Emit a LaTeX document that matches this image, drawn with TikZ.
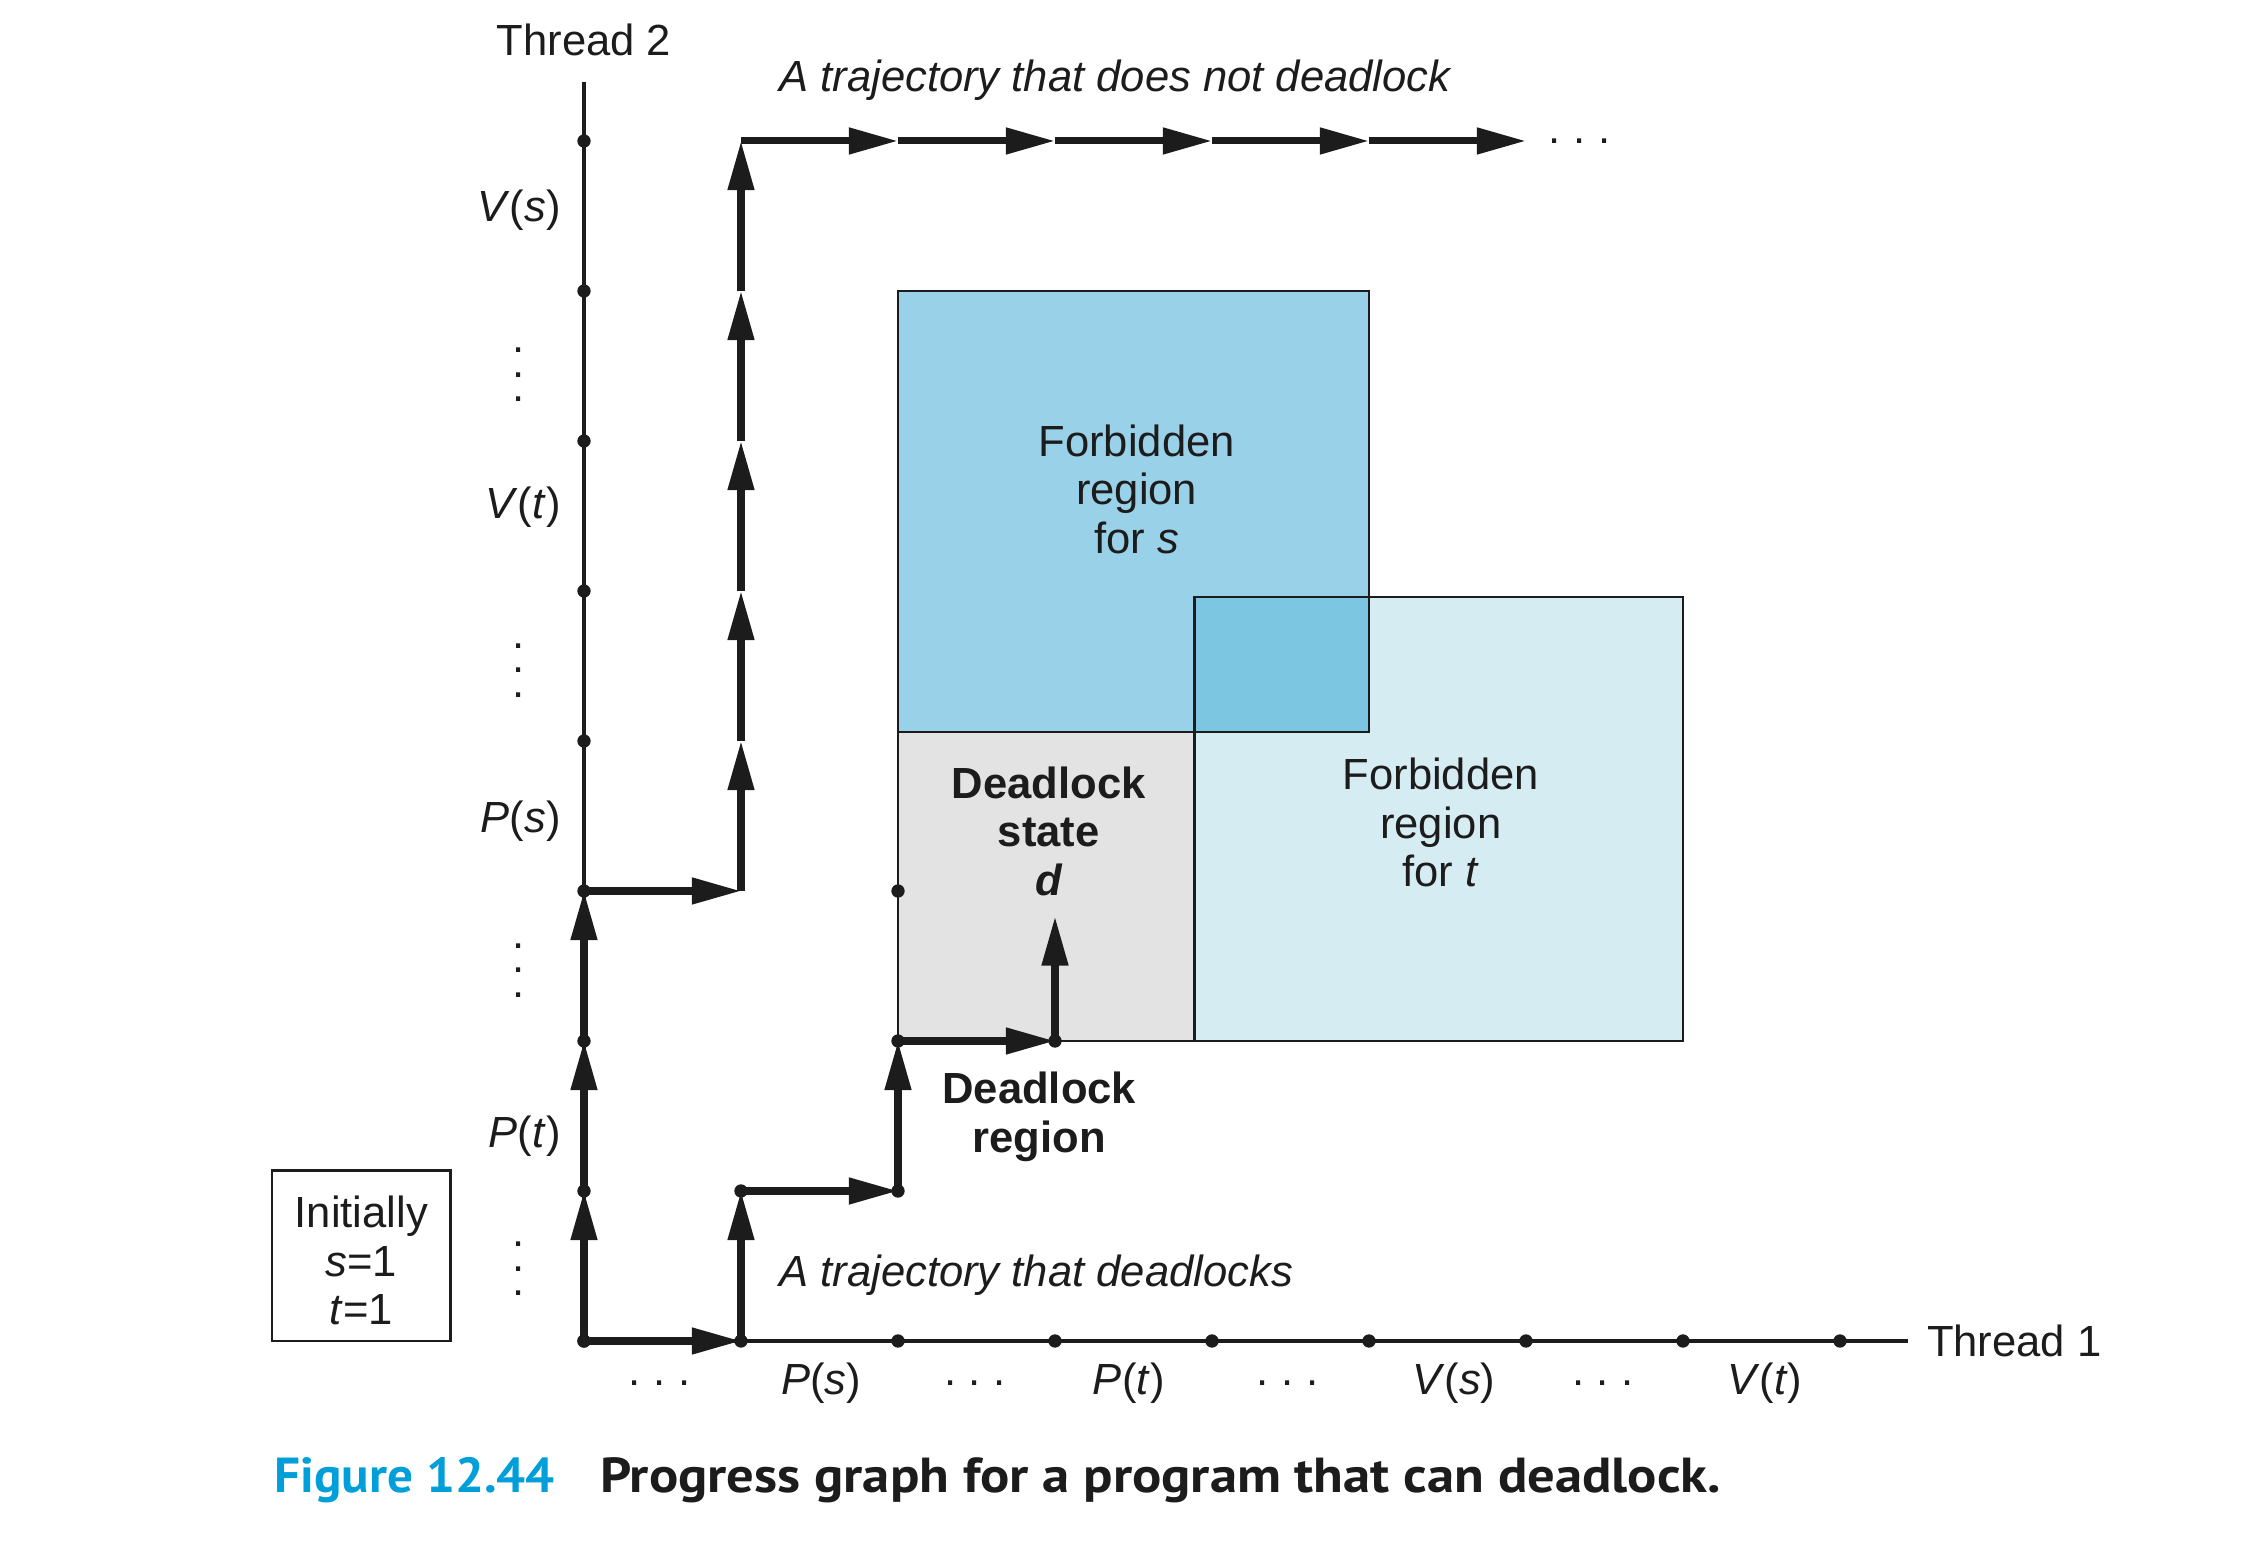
\documentclass[tikz,border=0pt]{standalone}
\usepackage{fontspec}
\setmainfont{Liberation Sans}
\newfontfamily\figfont[FakeStretch=1.04]{PT Sans}
\newfontfamily\capfont[FakeStretch=1.11]{PT Sans}
\usetikzlibrary{arrows.meta,positioning}
\definecolor{ink}{HTML}{1C1C1C}
\definecolor{forbs}{HTML}{98D1E8}
\definecolor{forbt}{HTML}{D6ECF3}
\definecolor{forbst}{HTML}{7CC6E2}
\definecolor{deadfill}{HTML}{E3E3E3}
\definecolor{figblue}{HTML}{009FDA}
\tikzset{
  lbl/.style={text=ink,inner sep=0pt,font=\fontsize{12.4}{13.8}\selectfont},
  lblb/.style={lbl,font=\fontsize{12.4}{13.8}\selectfont\bfseries},
  lbli/.style={lbl,font=\fontsize{12.4}{13.8}\selectfont\itshape},
  vdots/.style={lbl,align=center,font=\fontsize{12.4}{7}\selectfont},
  traj/.style={->,line width=2pt,draw=ink},
  axis/.style={line width=0.95pt,draw=ink},
  regbox/.style={line width=0.8pt,draw=ink},
  figno/.style={inner sep=0pt,text=figblue,font=\figfont\bfseries\fontsize{14}{16}\selectfont},
  capt/.style={inner sep=0pt,text=ink,font=\capfont\bfseries\fontsize{14}{16}\selectfont},
}
\newcommand{\hdots}{.\kern3.6pt.\kern3.6pt.}

\begin{document}
\begin{tikzpicture}[x=1.57cm,y=1.5cm,>={Triangle[length=14pt,width=7.2pt]}]
\useasboundingbox (-3.7197,-1.38) rectangle (10.6242,8.94);
\foreach \i in {0,...,8}
  \foreach \j in {0,...,8}
    \coordinate (g\i\j) at (\i,\j);
\coordinate (t1end) at (8.43,0);
\coordinate (t2end) at (0,8.39);
\coordinate (dtip) at (3,2.83);

\fill[forbs] (2,4.06) rectangle (5,7);
\fill[forbt] (3.89,2) rectangle (7,4.96);
\fill[forbst] (3.89,4.06) rectangle (5,4.96);
\fill[deadfill] (2,2) rectangle (3.89,4.06);
\draw[regbox] (2,4.06) rectangle (5,7);
\draw[regbox] (3.89,2) rectangle (7,4.96);
\draw[regbox] (2,2) rectangle (3.89,4.06);

\draw[axis] (g00) -- (t1end);
\draw[axis] (g00) -- (t2end);
\node[lbl,anchor=base] (thr2) at (0,8.573) {Thread 2};
\node[lbl,anchor=west] (thr1) at (8.55,0) {Thread 1};

\foreach \y/\a/\b in {1.289/P/t,3.393/P/s,5.483/V/t,7.462/V/s}
  \node[lbl,anchor=base east] (v\a\b) at (-0.145,\y) {\textit{\a}(\textit{\b})};
\foreach \y [count=\k] in {0.48,2.47,4.47,6.44}
  \node[vdots] (vd\k) at (-0.42,\y) {.\\.\\.};
\foreach \x/\a/\b in {1.51/P/s,3.47/P/t,5.54/V/s,7.52/V/t}
  \node[lbl,anchor=base] (h\a\b) at (\x,-0.36) {\textit{\a}(\textit{\b})};
\foreach \x [count=\k] in {0.48,2.49,4.48,6.49}
  \node[lbl,anchor=base] (hd\k) at (\x,-0.30) {\hdots};

\foreach \a/\b in {g00/g10,g10/g11,g11/g21,g21/g22,g22/g32,g32/dtip}
  \draw[traj] (\a) -- (\b);
\foreach \a/\b in {g00/g01,g01/g02,g02/g03,g03/g13,g13/g14,g14/g15,g15/g16,g16/g17,g17/g18,g18/g28,g28/g38,g38/g48,g48/g58,g58/g68}
  \draw[traj] (\a) -- (\b);
\node[lbl,anchor=west] (more) at (6.14,8) {\hdots};

\foreach \i in {0,...,8}
{
  \fill[ink] (g\i0) circle[radius=1.9pt];
  \fill[ink] (g0\i) circle[radius=1.9pt];
}
\foreach \p in {g11,g21,g22,g32,g23}
  \fill[ink] (\p) circle[radius=1.9pt];

\node[lbl,align=center] (fors) at (3.52,5.68) {Forbidden\\region\\for \textit{s}};
\node[lbl,align=center] (fort) at (5.457,3.456) {Forbidden\\region\\for \textit{t}};
\node[lblb,align=center] (dstate) at (2.96,3.40) {Deadlock\\state\\\textit{d}};
\node[lblb,align=center] (dregion) at (2.90,1.494) {Deadlock\\region};
\node[lbli,anchor=base west] (nodl) at (1.24,8.33) {A trajectory that does not deadlock};
\node[lbli,anchor=base west] (dl) at (1.24,0.362) {A trajectory that deadlocks};
\node[lbl,draw=ink,line width=0.8pt,align=center,minimum width=50.9pt,minimum height=48.4pt] (init) at (-1.418,0.567) {\rule{0pt}{11.8pt}Initially\\\textit{s}=1\\\textit{t}=1};

\node[figno,anchor=base west] (fig) at (-1.975,-1.007) {Figure 12.44};
\node[capt,base right=12.5pt of fig] (cap) {Progress graph for a program that can deadlock.};
\end{tikzpicture}
\end{document}
